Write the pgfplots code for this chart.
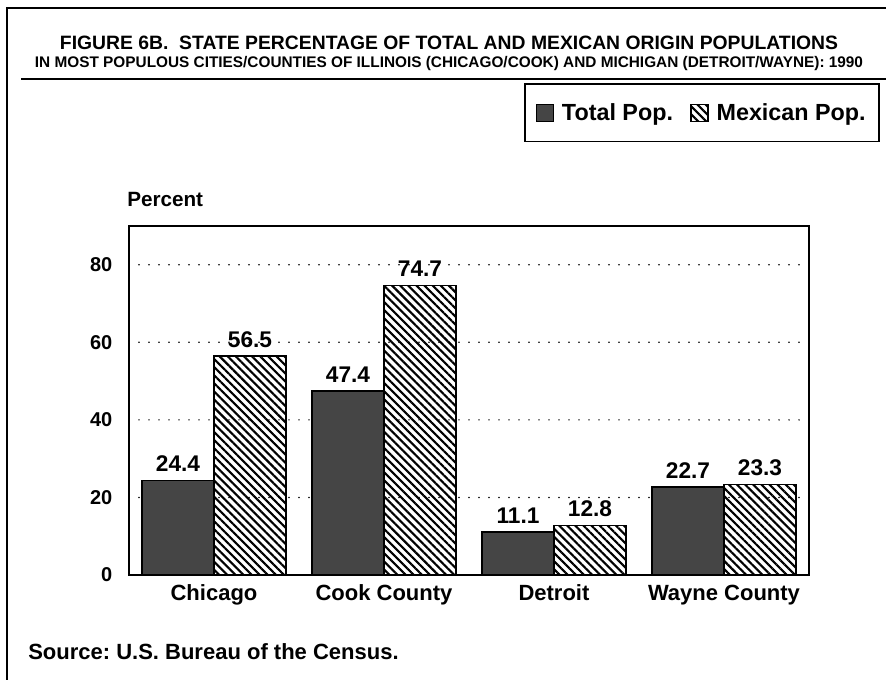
\documentclass[border=0pt]{standalone}
\usepackage{fontspec}
\setmainfont{Liberation Sans}
\usepackage{pgfplots}
\pgfplotsset{compat=1.18}
\usetikzlibrary{patterns.meta}
\definecolor{totalgray}{gray}{0.27}
\frenchspacing
\begin{document}
\begin{tikzpicture}
\path[use as bounding box] (0pt,0pt) rectangle (664.5pt,510pt);
% outer frame and title rule
\draw[line width=2.2pt] (5.25pt,0pt) -- (5.25pt,504pt) -- (664.5pt,504pt);
\draw[line width=1.6pt] (15.75pt,450.75pt) -- (664.5pt,450.75pt);
% title
\node[anchor=base, inner sep=0pt] at (336.75pt,472.5pt) {\resizebox{583.5pt}{!}{\bfseries FIGURE 6B.\ \ STATE PERCENTAGE OF TOTAL AND MEXICAN ORIGIN POPULATIONS}};
\node[anchor=base, inner sep=0pt] at (336.75pt,459pt) {\resizebox{621pt}{!}{\bfseries IN MOST POPULOUS CITIES/COUNTIES OF ILLINOIS (CHICAGO/COOK) AND MICHIGAN (DETROIT/WAYNE): 1990}};
% y label and source
\node[anchor=base west, inner sep=0pt, font=\fontsize{15.5pt}{18pt}\selectfont\bfseries] at (95.25pt,354.75pt) {Percent};
\node[anchor=base west, inner sep=0pt, font=\fontsize{16.5pt}{19pt}\selectfont\bfseries] at (21pt,15pt) {Source: U.S. Bureau of the Census.};
\begin{axis}[
  at={(96.75pt,78.75pt)}, anchor=south west,
  width=510pt, height=261.75pt, scale only axis,
  xmin=-0.5, xmax=3.5, ymin=0, ymax=90,
  xtick={0,1,2,3},
  xticklabels={Chicago, Cook County, Detroit, Wayne County},
  ytick={0,20,40,60,80},
  major tick length=0pt,
  axis line style={line width=1.5pt},
  ymajorgrids,
  grid style={black, line width=1.3pt, line cap=round, dash pattern=on 0pt off 7.5pt},
  /pgf/number format/assume math mode=true,
  xticklabel style={font=\fontsize{16.5pt}{19pt}\selectfont\bfseries, yshift=-4pt},
  yticklabel style={font=\fontsize{15pt}{17pt}\selectfont\bfseries, xshift=-9pt},
  ybar, bar width=0.4235,
  nodes near coords,
  nodes near coords style={font=\fontsize{17pt}{19pt}\selectfont\bfseries, yshift=2.5pt,
    /pgf/number format/.cd, fixed, fixed zerofill, precision=1},
  legend columns=2,
  legend style={at={(1.1044,1.4097)}, anchor=north east, draw=black, line width=1.4pt,
    font=\fontsize{17.5pt}{19pt}\selectfont\bfseries, inner xsep=8pt, inner ysep=12.5pt,
    /tikz/every odd column/.append style={column sep=4pt},
    /tikz/every even column/.append style={column sep=11pt}},
  legend image code/.code={\draw[#1,line width=0.9pt] (0pt,-6.4pt) rectangle (12.8pt,6.4pt);},
]
\addplot[bar shift=-0.21175, draw=black, line width=1.2pt, fill=totalgray]
  coordinates {(0,24.4) (1,47.4) (2,11.1) (3,22.7)};
\addlegendentry{Total Pop.}
\addplot[bar shift=0.21175, draw=black, line width=1.2pt,
  pattern={Lines[angle=-45, distance=4.3pt, line width=1.6pt]}]
  coordinates {(0,56.5) (1,74.7) (2,12.8) (3,23.3)};
\addlegendentry{Mexican Pop.}
\end{axis}
\end{tikzpicture}
\end{document}
